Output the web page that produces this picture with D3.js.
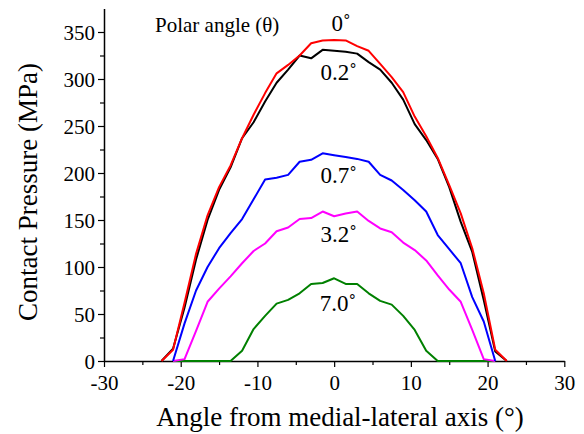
<!DOCTYPE html>
<html>
<head>
<meta charset="utf-8">
<script src="https://cdn.jsdelivr.net/npm/d3@7"></script>
<style>
  body { margin: 0; background: #fff; }
  svg text { font-family: "Liberation Serif", "Times New Roman", "DejaVu Serif", serif; }
</style>
</head>
<body>
<div id="chart-area"></div>
<script>
// angle grid (degrees)
var angles = [-22.5, -21, -19.5, -18, -16.5, -15, -13.5, -12, -10.5, -9, -7.5, -6, -4.5, -3, -1.5,
              0, 1.5, 3, 4.5, 6, 7.5, 9, 10.5, 12, 13.5, 15, 16.5, 18, 19.5, 21, 22.5];

// contact pressure (MPa) per polar angle
var p0   = [0, 12, 62, 114, 155, 185, 208, 237, 262, 285, 306, 315, 325, 338, 341,
            341.5, 341, 335, 330, 316, 302, 286, 260, 239, 216, 187, 157, 120, 72, 12, 0];
var p02  = [0, 13, 57, 108, 150, 182, 206, 237, 254, 276, 296, 310, 325, 322, 331,
            330, 329, 327, 318, 310, 296, 278, 252, 235, 215, 185, 148, 116, 65, 10, 0];
var p07  = [null, 0, 40, 75, 100, 120, 136, 151, 172, 193, 195, 198, 212, 214, 221,
            219, 217, 215, 212, 198, 192, 182, 171, 159, 134, 119, 104, 68, 42, 0, null];
var p32  = [null, 0, 2, 32, 63, 77, 90, 104, 117, 125, 138, 142, 151, 152, 159,
            154, 157, 159, 149, 141, 137, 126, 118, 107, 91, 76, 63, 33, 2, 0, null];
var p70  = [null, 0, 0, 0, 0, 0, 0, 11, 34, 48, 61, 65, 72, 82, 83,
            88, 82, 82, 72, 64, 60, 48, 33, 11, 0, 0, 0, 0, 0, 0, null];

var seriesNames = ["0\u02DA", "0.2\u02DA", "0.7\u02DA", "3.2\u02DA", "7.0\u02DA"];
var seriesValues = [p0, p02, p07, p32, p70];
var colors = ["#ff0000", "#000000", "#0000ff", "#ff00ff", "#008000"];
// label anchors (angle, value) for the curve labels
var labelPos = [[0.9, 351], [0.6, 299], [0.6, 189], [0.6, 126.5], [0.5, 53]];

var xTicks = [-30, -20, -10, 0, 10, 20, 30];
var yTicks = [0, 50, 100, 150, 200, 250, 300, 350];

var width = 584, height = 434;
var margin = {left: 104, top: 8, right: 20, bottom: 73};
var serif = "Liberation Serif, Times New Roman, DejaVu Serif, serif";

var svg = d3.select("#chart-area").append("svg")
    .attr("width", width)
    .attr("height", height)
    .attr("font-family", serif);

var x = d3.scaleLinear().domain([-30, 30]).range([margin.left, 564.3]);
var y = d3.scaleLinear().domain([0, 375]).range([361, 361 - 375 * 47 / 50]);

var fmt = d => String(d); // plain hyphen minus like the original

// minor ticks
svg.append("g")
    .attr("transform", "translate(0,361)")
    .call(d3.axisBottom(x).tickValues(d3.range(-25, 30, 10)).tickSize(4).tickFormat(""))
    .call(g => g.select(".domain").remove());
svg.append("g")
    .attr("transform", "translate(" + margin.left + ",0)")
    .call(d3.axisLeft(y).tickValues(d3.range(25, 375, 50)).tickSize(4).tickFormat(""))
    .call(g => g.select(".domain").remove());

// x axis
var xAxis = svg.append("g")
    .attr("transform", "translate(0,361)")
    .call(d3.axisBottom(x).tickValues(xTicks).tickFormat(fmt).tickSize(6).tickSizeOuter(0).tickPadding(8));
xAxis.attr("font-family", serif);
xAxis.selectAll("text").style("font-size", "21px").attr("fill", "#000");

// y axis
var yAxis = svg.append("g")
    .attr("transform", "translate(" + margin.left + ",0)")
    .call(d3.axisLeft(y).tickValues(yTicks).tickFormat(fmt).tickSize(6).tickSizeOuter(0).tickPadding(3));
yAxis.attr("font-family", serif);
yAxis.selectAll("text").style("font-size", "21px").attr("fill", "#000").attr("dy", "0.35em");

svg.selectAll(".domain").attr("stroke-width", 1.5).attr("stroke", "#000");
svg.selectAll(".tick line").attr("stroke-width", 1.2).attr("stroke", "#000");

// lines
var line = d3.line()
    .defined(d => d[1] !== null)
    .x(d => x(d[0]))
    .y(d => y(d[1]));

// draw green first so others sit on top like the original
[4, 3, 2, 1, 0].forEach(function (i) {
    svg.append("path")
        .datum(angles.map((a, j) => [a, seriesValues[i][j]]))
        .attr("fill", "none")
        .attr("stroke", colors[i])
        .attr("stroke-width", 2)
        .attr("stroke-linejoin", "round")
        .attr("d", line);
});

// curve labels
svg.selectAll(".clabel")
    .data(seriesNames)
    .enter()
    .append("text")
    .attr("x", (d, i) => x(labelPos[i][0]))
    .attr("y", (d, i) => y(labelPos[i][1]))
    .attr("text-anchor", "middle")
    .style("font-size", "23px")
    .text(d => d);

svg.append("text")
    .attr("x", 155)
    .attr("y", 32)
    .style("font-size", "21px")
    .text("Polar angle (\u03B8)");

// axis titles
svg.append("text")
    .attr("x", 340)
    .attr("y", 426)
    .attr("text-anchor", "middle")
    .style("font-size", "27px")
    .text("Angle from medial-lateral axis (\u00B0)");

svg.append("text")
    .attr("transform", "translate(37," + 192 + ") rotate(-90)")
    .attr("text-anchor", "middle")
    .style("font-size", "27px")
    .text("Contact Pressure (MPa)");
</script>
</body>
</html>
